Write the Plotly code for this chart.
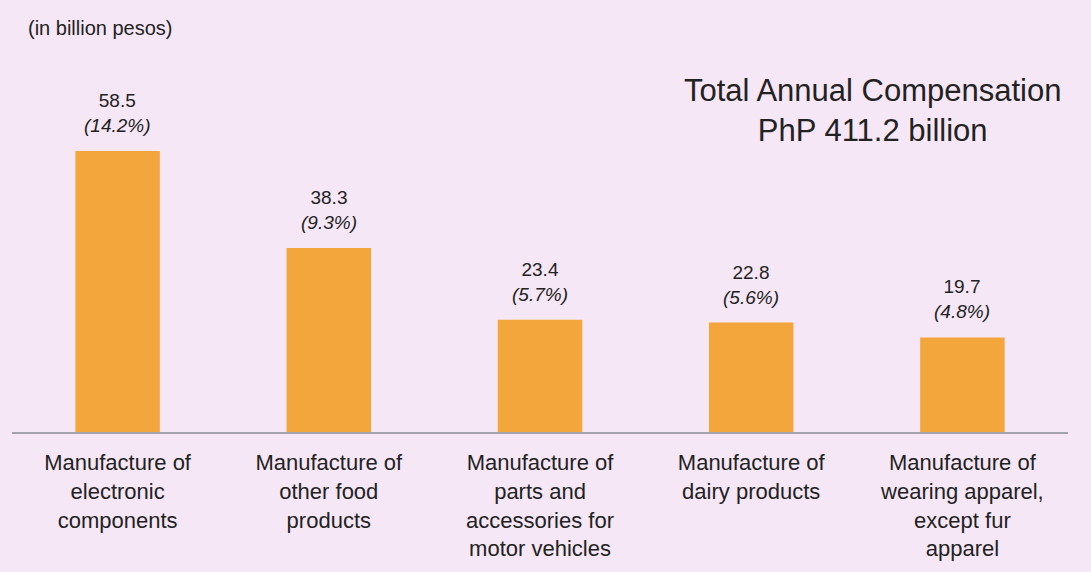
import plotly.graph_objects as go

categories = [
    "Manufacture of<br>electronic<br>components",
    "Manufacture of<br>other food<br>products",
    "Manufacture of<br>parts and<br>accessories for<br>motor vehicles",
    "Manufacture of<br>dairy products",
    "Manufacture of<br>wearing apparel,<br>except fur<br>apparel",
]
values = [58.5, 38.3, 23.4, 22.8, 19.7]
shares = ["14.2%", "9.3%", "5.7%", "5.6%", "4.8%"]

BG = "#F6E7F6"
BAR = "#F3A63B"
TXT = "#222222"
FONT = "Arial, Liberation Sans, sans-serif"

fig = go.Figure()
fig.add_trace(go.Bar(
    x=categories, y=values,
    marker=dict(color=BAR, line=dict(width=0)),
    hoverinfo="skip",
))

for c, v, s in zip(categories, values, shares):
    fig.add_annotation(
        x=c, y=v, xref="x", yref="y",
        text=f"{v}<br><i>({s})</i>",
        showarrow=False, yanchor="bottom", yshift=13,
        font=dict(family=FONT, size=19, color=TXT),
    )

fig.add_annotation(
    xref="paper", yref="paper", x=0.815, y=1.0,
    xanchor="center", yanchor="top", yshift=-51,
    text="Total Annual Compensation<br>PhP 411.2 billion",
    showarrow=False, font=dict(family=FONT, size=31, color=TXT),
)

fig.add_annotation(
    xref="paper", yref="paper", x=0.0, y=1.0,
    xanchor="left", yanchor="middle", xshift=14, yshift=-8,
    text="(in billion pesos)",
    showarrow=False, font=dict(family=FONT, size=20, color=TXT),
)

fig.update_layout(
    width=1091, height=572,
    margin=dict(l=12, r=23, t=20, b=140),
    paper_bgcolor=BG, plot_bgcolor=BG,
    bargap=0.6, showlegend=False,
    font=dict(family=FONT, color=TXT),
)
fig.update_xaxes(
    showline=True, linecolor="#A3A3AB", linewidth=2,
    ticks="", showgrid=False, zeroline=False,
    tickfont=dict(family=FONT, size=22, color=TXT),
    ticklabelstandoff=10, tickangle=0,
)
fig.update_yaxes(
    visible=False, range=[0, 85.8], showgrid=False, zeroline=False,
)

fig.write_html(
    "out.html",
    config={"displayModeBar": False},
    post_script="document.body.style.margin='0';document.body.style.background='" + BG + "';",
)
